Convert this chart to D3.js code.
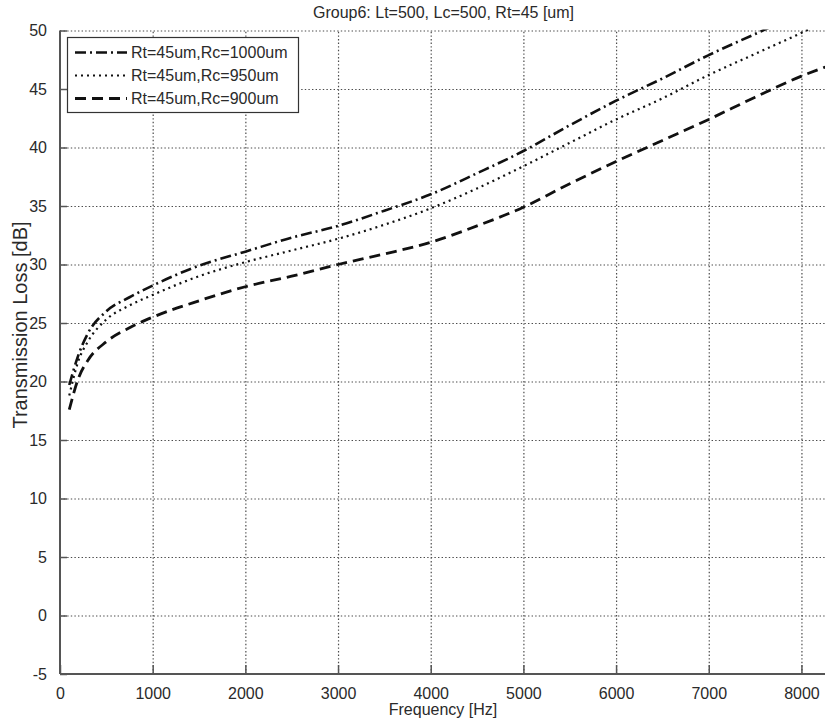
<!DOCTYPE html>
<html>
<head>
<meta charset="utf-8">
<script src="https://cdn.jsdelivr.net/npm/d3@7"></script>
<style>
  html, body { margin: 0; padding: 0; background: #fff; }
  svg { display: block; font-family: "Liberation Sans", Arial, sans-serif; }
</style>
</head>
<body>
<svg id="chart" width="825" height="724"></svg>
<script>
// frequency samples [Hz]
var freqs = [100, 200, 300, 500, 750, 1000, 1500, 2000, 2500, 3000, 3500, 4000,
  4500, 5000, 5500, 6000, 6500, 7000, 7500, 8000, 8265];

// transmission loss [dB]
var rc1000 = [19.7, 22.3, 24.1, 26.0, 27.2, 28.2, 29.9, 31.1, 32.3, 33.3, 34.6, 36.0,
  37.8, 39.7, 41.9, 44.0, 45.9, 47.9, 49.7, 51.5, 52.5];
var rc950 = [18.8, 21.8, 23.4, 25.3, 26.5, 27.4, 29.0, 30.2, 31.2, 32.2, 33.4, 34.8,
  36.5, 38.4, 40.4, 42.4, 44.2, 46.2, 48.0, 49.8, 50.8];
var rc900 = [17.6, 20.3, 21.8, 23.4, 24.6, 25.5, 26.9, 28.1, 29.0, 30.0, 30.9, 31.9,
  33.3, 34.9, 36.9, 38.8, 40.6, 42.4, 44.3, 46.1, 46.9];

var seriesNames = ['Rt=45um,Rc=1000um', 'Rt=45um,Rc=950um', 'Rt=45um,Rc=900um'];
var xTicks = [0, 1000, 2000, 3000, 4000, 5000, 6000, 7000, 8000];
var yTicks = [-5, 0, 5, 10, 15, 20, 25, 30, 35, 40, 45, 50];

var titleText = 'Group6: Lt=500, Lc=500, Rt=45 [um]';
var xLabelText = 'Frequency [Hz]';
var yLabelText = 'Transmission Loss [dB]';

var svg = d3.select('#chart');

var plot = { left: 60, right: 826, top: 30.5, bottom: 674 };

var x = d3.scaleLinear().domain([0, 8265]).range([plot.left, plot.right]);
var y = d3.scaleLinear().domain([-5, 50]).range([plot.bottom, plot.top]);

var axisColor = '#555';
var textColor = '#2a2a2a';

// plain hyphen minus, like the original figure
var tickFmt = function(d) { return String(d); };

// dotted grid, drawn as full-length axis ticks
var gridX = svg.append('g')
  .attr('class', 'grid')
  .attr('transform', 'translate(0,' + plot.bottom + ')')
  .call(d3.axisBottom(x)
    .tickValues(xTicks.filter(function(t) { return t > 0; }))
    .tickSize(-(plot.bottom - plot.top))
    .tickFormat(''));

var gridY = svg.append('g')
  .attr('class', 'grid')
  .attr('transform', 'translate(' + plot.left + ',0)')
  .call(d3.axisLeft(y)
    .tickValues(yTicks.filter(function(t) { return t > -5; }))
    .tickSize(-(plot.right - plot.left))
    .tickFormat(''));

svg.selectAll('.grid .domain').remove();
svg.selectAll('.grid .tick line')
  .attr('stroke', '#4a4a4a')
  .attr('stroke-width', 1.2)
  .attr('stroke-dasharray', '1.4,2.2');

// axes: ticks point inward, only left and bottom lines drawn
var xAxis = d3.axisBottom(x).tickValues(xTicks).tickSize(-9).tickPadding(14)
  .tickFormat(tickFmt);
var yAxis = d3.axisLeft(y).tickValues(yTicks).tickSize(-7).tickPadding(13)
  .tickFormat(tickFmt);

var gx = svg.append('g')
  .attr('transform', 'translate(0,' + plot.bottom + ')')
  .call(xAxis);
var gy = svg.append('g')
  .attr('transform', 'translate(' + plot.left + ',0)')
  .call(yAxis);

[gx, gy].forEach(function(g) {
  g.select('.domain').remove();
  g.selectAll('.tick line').attr('stroke', axisColor).attr('stroke-width', 1.5);
  g.selectAll('.tick text')
    .attr('fill', textColor)
    .style('font-size', '16px')
    .style('font-family', '"Liberation Sans", Arial, sans-serif');
});

svg.append('line')
  .attr('x1', plot.left).attr('x2', plot.left)
  .attr('y1', plot.top).attr('y2', plot.bottom)
  .attr('stroke', axisColor).attr('stroke-width', 2);
svg.append('line')
  .attr('x1', plot.left).attr('x2', plot.right)
  .attr('y1', plot.bottom).attr('y2', plot.bottom)
  .attr('stroke', axisColor).attr('stroke-width', 2);

// curves
svg.append('clipPath').attr('id', 'plotClip')
  .append('rect')
  .attr('x', plot.left).attr('y', plot.top - 1)
  .attr('width', plot.right - plot.left).attr('height', plot.bottom - plot.top + 1);

var series = [
  { name: seriesNames[0], values: rc1000, dash: '11,4,2,4', width: 2.6 },
  { name: seriesNames[1], values: rc950, dash: '2,4', width: 2.2 },
  { name: seriesNames[2], values: rc900, dash: '11,6', width: 2.8 }
];

var line = d3.line()
  .x(function(d, i) { return x(freqs[i]); })
  .y(function(d) { return y(d); })
  .curve(d3.curveMonotoneX);

svg.append('g').attr('clip-path', 'url(#plotClip)')
  .selectAll('path')
  .data(series)
  .enter().append('path')
  .attr('d', function(s) { return line(s.values); })
  .attr('fill', 'none')
  .attr('stroke', '#111')
  .attr('stroke-width', function(s) { return s.width; })
  .attr('stroke-dasharray', function(s) { return s.dash; });

// legend
var legend = svg.append('g').attr('class', 'legend');
legend.append('rect')
  .attr('x', 67.5).attr('y', 37.5)
  .attr('width', 231).attr('height', 75)
  .attr('fill', '#fff')
  .attr('stroke', '#333')
  .attr('stroke-width', 1.2);

var rows = legend.selectAll('g.row')
  .data(series)
  .enter().append('g')
  .attr('class', 'row')
  .attr('transform', function(d, i) { return 'translate(0,' + (52.5 + i * 23) + ')'; });

rows.append('line')
  .attr('x1', 75).attr('x2', 127)
  .attr('y1', 0).attr('y2', 0)
  .attr('stroke', '#111')
  .attr('stroke-width', function(s) { return s.width; })
  .attr('stroke-dasharray', function(s) { return s.dash; });

rows.append('text')
  .attr('x', 131)
  .attr('y', 0)
  .attr('dy', '0.35em')
  .attr('fill', textColor)
  .style('font-size', '16px')
  .text(function(s) { return s.name; });

// title and labels
svg.append('text')
  .attr('x', 443.5).attr('y', 18)
  .attr('text-anchor', 'middle')
  .attr('fill', textColor)
  .style('font-size', '16px')
  .text(titleText);

svg.append('text')
  .attr('x', 443).attr('y', 715)
  .attr('text-anchor', 'middle')
  .attr('fill', textColor)
  .style('font-size', '16px')
  .text(xLabelText);

svg.append('text')
  .attr('transform', 'translate(27,325) rotate(-90)')
  .attr('text-anchor', 'middle')
  .attr('fill', textColor)
  .style('font-size', '20px')
  .text(yLabelText);
</script>
</body>
</html>
